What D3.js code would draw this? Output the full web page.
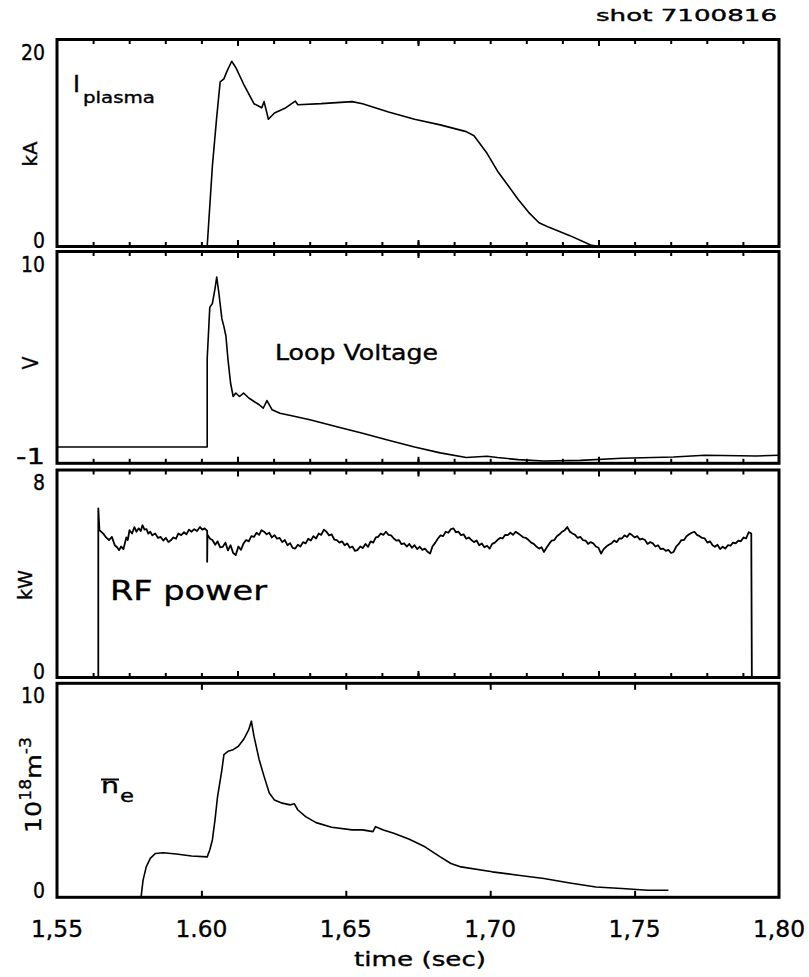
<!DOCTYPE html>
<html><head><meta charset="utf-8">
<script src="https://cdn.jsdelivr.net/npm/d3@7"></script>
<style>html,body{margin:0;padding:0;background:#fff;} svg{display:block;}</style>
</head><body>
<svg id="c" width="809" height="977"></svg>
<script>
// ---------------- data ----------------
const shotLabel = "shot 7100816";
const xDomain = [1.55, 1.80];
const xTickValues = [1.55, 1.60, 1.65, 1.70, 1.75, 1.80];
const xTickLabels = ["1,55", "1.60", "1,65", "1,70", "1,75", "1,80"];
const xTitle = "time (sec)";
const yDomains = [[0, 20], [-1, 10], [0, 8], [0, 10]];
const yTickLabels = [["0", "20"], ["-1", "10"], ["0", "8"], ["0", "10"]];
const yUnits = ["kA", "V", "kW", "10^18 m^-3"];
const panelNames = ["plasma current", "Loop Voltage", "RF power", "density"];

const ipData = [
  [1.5500,0],[1.6020,0],[1.6038,7.75],[1.6053,12.5],[1.6065,15.9],[1.6078,16.2],[1.6088,16.9],
  [1.6105,17.9],[1.6119,17.3],[1.6146,15.7],[1.6182,13.8],[1.6209,13.4],[1.6217,14.0],[1.6232,12.3],
  [1.6253,12.9],[1.6289,13.35],[1.6325,14.05],[1.6334,13.7],[1.6415,13.8],[1.6522,14.0],[1.6558,13.8],
  [1.6648,13.0],[1.6738,12.3],[1.6827,11.75],[1.6917,11.1],[1.6944,10.7],[1.6989,9.0],[1.7025,7.3],
  [1.7097,4.55],[1.7133,3.3],[1.7169,2.3],[1.7204,1.85],[1.7276,1.05],[1.7348,0.15],[1.7375,0]
];

const vloopData = [
  [1.5500,-0.15],[1.6020,-0.15],[1.6020,4.4],[1.6029,7.1],[1.6038,7.3],[1.6047,8.06],[1.6053,8.67],
  [1.6060,7.9],[1.6071,6.5],[1.6078,6.1],[1.6085,5.6],[1.6092,4.4],[1.6101,3.17],[1.6110,2.47],
  [1.6119,2.65],[1.6132,2.47],[1.6146,2.65],[1.6164,2.39],[1.6200,2.04],[1.6214,1.86],[1.6227,2.26],
  [1.6245,1.78],[1.6272,1.60],[1.6325,1.43],[1.6379,1.25],[1.6469,0.90],[1.6558,0.56],[1.6648,0.20],
  [1.6738,-0.15],[1.6827,-0.46],[1.6917,-0.70],[1.6989,-0.63],[1.7025,-0.70],[1.7097,-0.81],
  [1.7186,-0.88],[1.7312,-0.85],[1.7456,-0.74],[1.7635,-0.67],[1.7743,-0.58],[1.7922,-0.62],[1.8000,-0.58]
];

const rfData = [
  [1.5643,0],[1.5643,6.52],[1.5647,5.68],[1.5660,5.55],[1.5670,5.40],[1.5680,5.30],[1.5690,5.42],[1.5700,5.10],
  [1.5708,5.02],[1.5715,4.91],[1.5722,5.05],[1.5730,4.95],[1.5740,5.40],[1.5745,5.30],[1.5751,5.68],[1.5760,5.55],
  [1.5768,5.80],[1.5775,5.62],[1.5783,5.75],[1.5790,5.65],[1.5796,5.87],[1.5803,5.70],[1.5810,5.72],[1.5816,5.55],
  [1.5823,5.62],[1.5830,5.48],[1.5840,5.55],[1.5850,5.38],[1.5859,5.42],[1.5868,5.28],[1.5877,5.38],[1.5886,5.22],
  [1.5895,5.30],[1.5903,5.40],[1.5912,5.35],[1.5920,5.55],[1.5930,5.49],[1.5940,5.60],[1.5948,5.52],[1.5957,5.70],
  [1.5966,5.62],[1.5975,5.72],[1.5985,5.65],[1.5995,5.80],[1.6003,5.70],[1.6011,5.75],[1.6020,5.65],[1.6020,4.46],
  [1.6021,5.50],[1.6030,5.35],[1.6038,5.30],[1.6048,5.12],[1.6056,5.25],[1.6065,5.02],[1.6074,5.04],[1.6083,5.20],
  [1.6092,4.90],[1.6101,5.10],[1.6110,4.80],[1.6119,4.72],[1.6128,5.05],[1.6137,4.92],[1.6146,5.17],[1.6155,5.30],
  [1.6164,5.25],[1.6173,5.45],[1.6182,5.42],[1.6191,5.58],[1.6200,5.50],[1.6208,5.68],[1.6217,5.62],[1.6226,5.52],
  [1.6235,5.58],[1.6244,5.40],[1.6253,5.49],[1.6262,5.35],[1.6271,5.38],[1.6280,5.22],[1.6289,5.30],[1.6298,5.10],
  [1.6307,5.18],[1.6316,5.00],[1.6325,4.97],[1.6334,5.12],[1.6343,5.05],[1.6352,5.22],[1.6361,5.17],[1.6370,5.35],
  [1.6379,5.28],[1.6388,5.45],[1.6397,5.36],[1.6406,5.55],[1.6415,5.50],[1.6424,5.70],[1.6433,5.62],[1.6442,5.48],
  [1.6451,5.52],[1.6460,5.32],[1.6469,5.30],[1.6478,5.20],[1.6487,5.25],[1.6496,5.10],[1.6505,5.17],[1.6514,5.00],
  [1.6523,5.05],[1.6532,4.88],[1.6540,4.91],[1.6550,5.05],[1.6559,4.99],[1.6568,5.15],[1.6577,5.04],[1.6586,5.25],
  [1.6595,5.20],[1.6604,5.40],[1.6612,5.42],[1.6621,5.55],[1.6630,5.50],[1.6639,5.62],[1.6648,5.50],[1.6657,5.48],
  [1.6666,5.36],[1.6675,5.28],[1.6684,5.30],[1.6693,5.14],[1.6702,5.17],[1.6711,5.05],[1.6720,5.15],[1.6729,5.00],
  [1.6738,5.10],[1.6747,4.95],[1.6756,5.04],[1.6765,4.92],[1.6774,4.97],[1.6783,4.85],[1.6792,4.78],[1.6800,5.05],
  [1.6810,5.20],[1.6819,5.36],[1.6828,5.48],[1.6837,5.45],[1.6846,5.62],[1.6855,5.58],[1.6864,5.72],[1.6873,5.75],
  [1.6881,5.60],[1.6890,5.62],[1.6899,5.49],[1.6908,5.52],[1.6917,5.35],[1.6926,5.40],[1.6935,5.30],[1.6944,5.22],
  [1.6953,5.28],[1.6962,5.10],[1.6971,5.17],[1.6980,5.02],[1.6989,5.08],[1.6998,4.97],[1.7007,5.15],[1.7016,5.20],
  [1.7025,5.30],[1.7034,5.38],[1.7043,5.36],[1.7052,5.50],[1.7061,5.49],[1.7070,5.58],[1.7079,5.50],[1.7088,5.62],
  [1.7097,5.55],[1.7106,5.48],[1.7115,5.40],[1.7124,5.38],[1.7133,5.30],[1.7142,5.20],[1.7151,5.15],[1.7160,5.05],
  [1.7169,4.97],[1.7178,5.02],[1.7186,4.84],[1.7195,5.00],[1.7204,5.15],[1.7213,5.28],[1.7222,5.30],[1.7231,5.45],
  [1.7240,5.52],[1.7249,5.62],[1.7258,5.68],[1.7267,5.80],[1.7276,5.62],[1.7285,5.55],[1.7294,5.50],[1.7303,5.38],
  [1.7312,5.42],[1.7321,5.30],[1.7330,5.28],[1.7339,5.15],[1.7348,5.22],[1.7357,5.17],[1.7366,5.05],[1.7375,5.00],
  [1.7384,4.78],[1.7393,4.95],[1.7402,5.05],[1.7411,5.12],[1.7420,5.17],[1.7429,5.28],[1.7438,5.22],[1.7447,5.36],
  [1.7456,5.36],[1.7465,5.48],[1.7474,5.42],[1.7483,5.55],[1.7491,5.49],[1.7500,5.40],[1.7509,5.45],[1.7518,5.32],
  [1.7527,5.35],[1.7536,5.30],[1.7545,5.15],[1.7554,5.22],[1.7563,5.17],[1.7572,5.05],[1.7581,5.10],[1.7590,4.95],
  [1.7599,4.97],[1.7608,4.88],[1.7617,4.92],[1.7626,4.80],[1.7635,4.84],[1.7644,5.05],[1.7653,5.15],[1.7662,5.30],
  [1.7671,5.30],[1.7680,5.45],[1.7689,5.52],[1.7698,5.58],[1.7707,5.62],[1.7716,5.50],[1.7725,5.45],[1.7734,5.38],
  [1.7743,5.36],[1.7752,5.20],[1.7761,5.25],[1.7770,5.10],[1.7778,5.04],[1.7787,5.12],[1.7796,4.95],[1.7805,5.04],
  [1.7814,4.97],[1.7823,5.10],[1.7832,5.08],[1.7841,5.20],[1.7850,5.17],[1.7859,5.28],[1.7868,5.25],[1.7877,5.40],
  [1.7886,5.36],[1.7895,5.60],[1.7904,5.55],[1.7906,0]
];

const neData = [
  [1.5791,0],[1.5798,0.80],[1.5809,1.42],[1.5823,1.82],[1.5841,2.05],[1.5868,2.08],[1.5913,2.02],[1.5966,1.93],
  [1.6020,1.89],[1.6029,2.21],[1.6038,2.68],[1.6047,3.61],[1.6056,4.71],[1.6071,5.96],[1.6078,6.67],[1.6092,6.82],
  [1.6110,6.90],[1.6128,7.06],[1.6146,7.37],[1.6164,7.84],[1.6173,8.23],[1.6182,7.53],[1.6200,6.43],[1.6217,5.65],
  [1.6235,4.87],[1.6253,4.55],[1.6280,4.40],[1.6307,4.32],[1.6322,4.37],[1.6334,4.08],[1.6361,3.77],[1.6397,3.49],
  [1.6451,3.27],[1.6522,3.15],[1.6558,3.15],[1.6594,3.07],[1.6603,3.30],[1.6630,3.15],[1.6666,2.99],[1.6720,2.71],
  [1.6774,2.36],[1.6827,1.89],[1.6864,1.58],[1.6899,1.42],[1.7007,1.19],[1.7097,1.03],[1.7186,0.88],[1.7276,0.67],
  [1.7366,0.48],[1.7456,0.41],[1.7545,0.33],[1.7617,0.33]
];

const seriesList = [ipData, vloopData, rfData, neData];

// ---------------- layout ----------------
const FONT = "'DejaVu Sans', sans-serif";
const X0 = 57, X1 = 779;
const panels = [
  {top: 39.5, bottom: 246.5},
  {top: 251.5, bottom: 463.3},
  {top: 470, bottom: 677.5},
  {top: 683.3, bottom: 897.3}
];

const svg = d3.select("#c");
svg.append("rect").attr("width", 809).attr("height", 977).attr("fill", "#fff");

const x = d3.scaleLinear().domain(xDomain).range([X0, X1]);

function txt(g, s, px, py, size, len, anchor) {
  const t = g.append("text").attr("x", px).attr("y", py)
    .attr("font-family", FONT).attr("font-size", size).attr("fill", "#000")
    .attr("stroke", "#000").attr("stroke-width", 0.35)
    .attr("text-anchor", anchor || "start").text(s);
  if (len) t.attr("textLength", len).attr("lengthAdjust", "spacingAndGlyphs");
  return t;
}

// top-3 panels use IDL-style ticks: 4 major intervals, 5 minor each
const majorUpper = d3.range(1, 4).map(k => xDomain[0] + k * (xDomain[1] - xDomain[0]) / 4);
const minorUpper = d3.range(1, 20).map(k => xDomain[0] + k * (xDomain[1] - xDomain[0]) / 20);

panels.forEach((p, i) => {
  const y = d3.scaleLinear().domain(yDomains[i]).range([p.bottom, p.top]);
  const g = svg.append("g");

  const cid = "clip" + i;
  svg.append("clipPath").attr("id", cid).append("rect")
    .attr("x", X0).attr("y", p.top).attr("width", X1 - X0).attr("height", p.bottom - p.top);

  g.append("path").datum(seriesList[i])
    .attr("clip-path", `url(#${cid})`)
    .attr("fill", "none").attr("stroke", "#000").attr("stroke-width", i === 2 ? 1.8 : 1.6)
    .attr("stroke-linejoin", "round")
    .attr("d", d3.line().x(d => x(d[0])).y(d => y(d[1])));

  const tickG = svg.append("g");
  let minorVals, majorVals;
  if (i < 3) { minorVals = minorUpper; majorVals = majorUpper; }
  else { minorVals = []; majorVals = xTickValues.slice(1, -1); }
  const mkAxis = (vals, len) => {
    tickG.append("g").attr("transform", `translate(0,${p.top})`)
      .call(d3.axisBottom(x).tickValues(vals).tickSize(len).tickFormat(""))
      .call(a => a.select(".domain").remove())
      .call(a => a.selectAll("line").attr("stroke", "#000").attr("stroke-width", 2));
    tickG.append("g").attr("transform", `translate(0,${p.bottom})`)
      .call(d3.axisTop(x).tickValues(vals).tickSize(len).tickFormat(""))
      .call(a => a.select(".domain").remove())
      .call(a => a.selectAll("line").attr("stroke", "#000").attr("stroke-width", 2));
  };
  mkAxis(minorVals, 4.5);
  mkAxis(majorVals, 6.5);

  svg.append("rect").attr("x", X0).attr("y", p.top)
    .attr("width", X1 - X0).attr("height", p.bottom - p.top)
    .attr("fill", "none").attr("stroke", "#000").attr("stroke-width", 3);

  const lab = yTickLabels[i];
  const bw = lab[0].length === 1 ? 12 : 29;
  txt(svg, lab[0], 45, y(yDomains[i][0]) + 1, 22, bw, "end");
  const tw = lab[1].length === 1 ? 12 : 24;
  txt(svg, lab[1], 45, p.top + 20, 22, tw, "end");
});

// y unit labels (rotated)
function rot(s, cx, cy, size, len) {
  const t = svg.append("text")
    .attr("transform", `translate(${cx},${cy}) rotate(-90)`)
    .attr("font-family", FONT).attr("font-size", size).attr("text-anchor", "middle")
    .attr("stroke", "#000").attr("stroke-width", 0.35).text(s);
  if (len) t.attr("textLength", len).attr("lengthAdjust", "spacingAndGlyphs");
  return t;
}
rot(yUnits[0], 37, 154, 20, 25);
rot(yUnits[1], 38, 363, 21, 13);
rot(yUnits[2], 32, 585, 20, 30);
{
  const t = svg.append("text")
    .attr("transform", `translate(41,785) rotate(-90)`)
    .attr("font-family", FONT).attr("font-size", 22).attr("text-anchor", "middle")
    .attr("stroke", "#000").attr("stroke-width", 0.35)
    .attr("textLength", 96).attr("lengthAdjust", "spacingAndGlyphs");
  t.append("tspan").text("10");
  t.append("tspan").attr("font-size", 15).attr("dy", -10).text("18");
  t.append("tspan").attr("dy", 10).text("m");
  t.append("tspan").attr("font-size", 15).attr("dy", -10).text("-3");
}

// annotations
txt(svg, "I", 73, 92, 23, 7);
txt(svg, "plasma", 83, 103, 15, 72);
txt(svg, panelNames[1], 275, 360, 20.5, 163);
txt(svg, panelNames[2], 110, 600, 27, 157);
txt(svg, "n", 101, 793, 21, 18);
svg.append("line").attr("x1", 101).attr("x2", 119).attr("y1", 779.5).attr("y2", 779.5)
  .attr("stroke", "#000").attr("stroke-width", 2);
txt(svg, "e", 120, 802, 17, 14);

// shot label
txt(svg, shotLabel, 777, 21, 15, 181, "end");

// x tick labels
xTickValues.forEach((v, k) => {
  txt(svg, xTickLabels[k], x(v), 937, 22.5, 52, "middle");
});
txt(svg, xTitle, (X0 + X1) / 2 + 2, 966, 20, 132, "middle");
</script>
</body></html>
